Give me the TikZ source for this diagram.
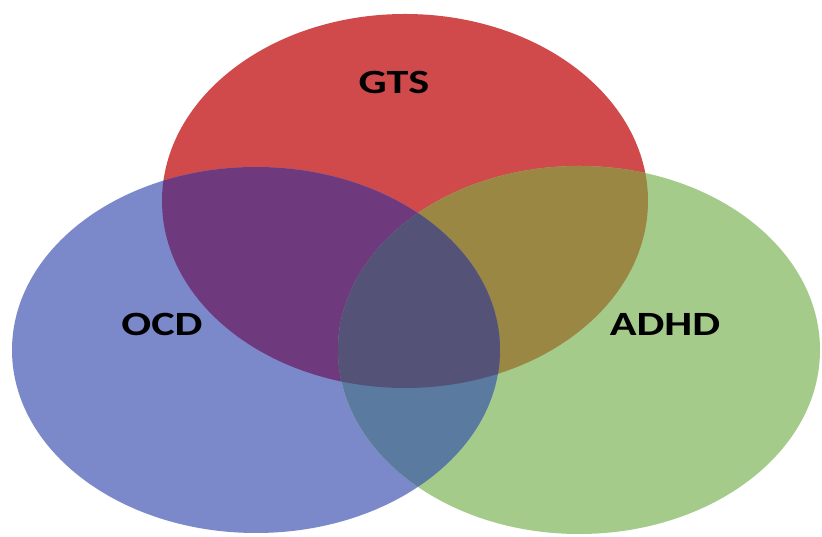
\documentclass[tikz,border=0pt]{standalone}
\usepackage{fontspec}
\setmainfont{Carlito}
\definecolor{cred}{HTML}{D14A4B}
\definecolor{cblue}{HTML}{7B89CB}
\definecolor{cgreen}{HTML}{A5CB8B}
\definecolor{crb}{HTML}{6E3A7D}
\definecolor{crg}{HTML}{998743}
\definecolor{cbg}{HTML}{5A7AA0}
\definecolor{crbg}{HTML}{555278}
\tikzset{
  lbl/.style={font=\fontsize{34}{40}\selectfont\bfseries, text=black, inner sep=0pt},
}
\newcommand{\redell}{(405pt,336pt) ellipse [x radius=243pt, y radius=187pt]}
\newcommand{\blueell}{(256pt,187pt) ellipse [x radius=244pt, y radius=183pt]}
\newcommand{\greenell}{(579pt,187pt) ellipse [x radius=241pt, y radius=184pt]}
\begin{document}
\begin{tikzpicture}[x=1pt,y=1pt]
\useasboundingbox (0,0) rectangle (822,537);
\fill[white] (0,0) rectangle (822,537);
\fill[cred] \redell;
\fill[cblue] \blueell;
\fill[cgreen] \greenell;
\begin{scope}
  \clip \redell;
  \fill[crb] \blueell;
  \fill[crg] \greenell;
\end{scope}
\begin{scope}
  \clip \blueell;
  \fill[cbg] \greenell;
  \clip \greenell;
  \fill[crbg] \redell;
\end{scope}
\node[lbl] (gts) at (394,455) {\scalebox{1.3}[1]{GTS}};
\node[lbl] (ocd) at (162,213) {\scalebox{1.3}[1]{OCD}};
\node[lbl] (adhd) at (665,213) {\scalebox{1.3}[1]{ADHD}};
\end{tikzpicture}
\end{document}
